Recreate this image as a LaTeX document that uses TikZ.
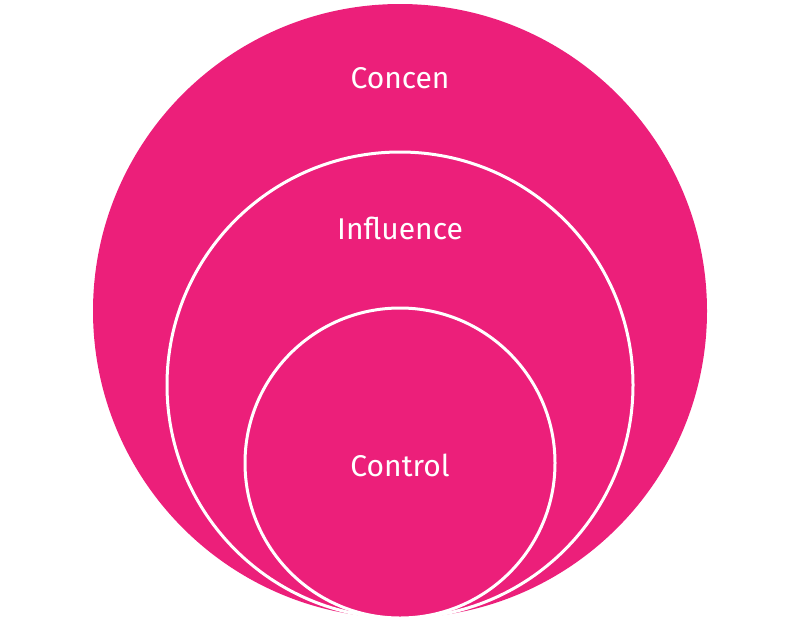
\documentclass[tikz,border=0pt]{standalone}
\usepackage{fontspec}
\setmainfont{Fira Sans}
\definecolor{pink}{HTML}{EC1F7A}
\begin{document}
\begin{tikzpicture}[x=1pt,y=-1pt,
  disc/.style={fill=pink,draw=white,line width=3pt},
  lbl/.style={text=white,font=\fontsize{30}{36}\selectfont}]
\useasboundingbox (0,0) rectangle (800,622);
\fill[pink] (400,311) circle[radius=307];
\draw[disc] (400,385) circle[radius=233];
\draw[disc] (400,463) circle[radius=155];
\node[lbl] (concern) at (400,78) {Concen};
\node[lbl] (influence) at (400,228) {Influence};
\node[lbl] (control) at (400,465) {Control};
\end{tikzpicture}
\end{document}
